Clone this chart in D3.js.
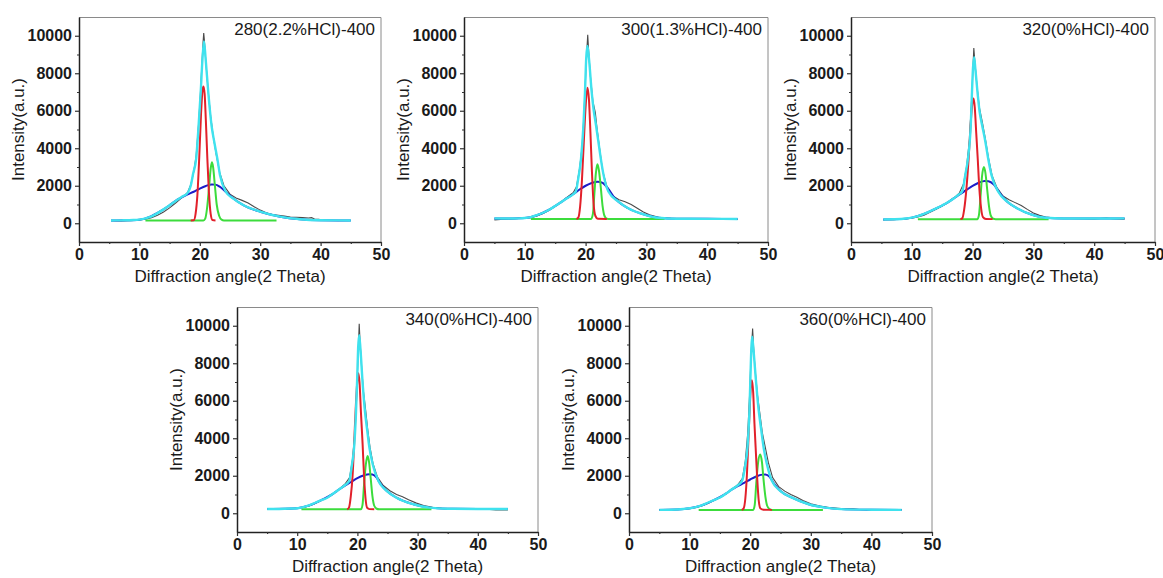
<!DOCTYPE html>
<html>
<head>
<meta charset="utf-8">
<script src="https://cdn.jsdelivr.net/npm/d3@7"></script>
<style>
  html, body { margin: 0; padding: 0; background: #fff; }
  text { font-family: "Liberation Sans", Arial, sans-serif; }
</style>
</head>
<body>
<div id="chart"></div>
<script>
// panel titles and axis ticks
const titles = ["280(2.2%HCl)-400", "300(1.3%HCl)-400", "320(0%HCl)-400", "340(0%HCl)-400", "360(0%HCl)-400"];
const xTicks = [0, 10, 20, 30, 40, 50];
const xMinor = [5, 15, 25, 35, 45];
const yTicks = [0, 2000, 4000, 6000, 8000, 10000];
const yMinor = [1000, 3000, 5000, 7000, 9000];

// 280(2.2%HCl)-400
const black280 = [[5.3,130],[6,140],[7,120],[8,140],[9,150],[10,170],[11,210],[12,290],[13,430],[14,600],[15,820],[16,1080],[17,1350],[18,1650],[18.5,2050],[19,2750],[19.4,3600],[19.8,5300],[20.1,6900],[20.4,8800],[20.55,9700],[20.65,10150],[20.75,9800],[21,8600],[21.4,7000],[21.8,5700],[22.2,4700],[22.7,3700],[23.3,2700],[24,2000],[25,1550],[26,1350],[27,1220],[28,1080],[29,880],[30,700],[31,560],[32,460],[33,420],[34,380],[35,330],[36,320],[37,300],[38,280],[38.5,300],[39,230],[39.8,210]];
const cyan280 = [[5.3,150],[7,155],[9,170],[10,195],[11,260],[12,370],[13,540],[14,740],[15,960],[16,1190],[17,1400],[18,1620],[18.5,2000],[18.9,2650],[19.4,3450],[19.8,5200],[20.15,7000],[20.45,8800],[20.7,9700],[20.97,8750],[21.4,7000],[21.95,5200],[22.4,4330],[22.9,3450],[23.35,2560],[24.3,1680],[25.5,1330],[27.2,970],[30,620],[33.3,350],[36.6,210],[40,160],[45,150]];
const red280 = [[18.5,150],[19,160],[19.3,500],[19.6,1500],[19.9,3450],[20.2,5800],[20.45,7100],[20.6,7300],[20.8,6900],[21,5500],[21.25,3450],[21.5,1700],[21.8,500],[22.1,170],[22.6,150]];
const green280 = [[11,150],[20.6,150],[20.9,250],[21.2,800],[21.5,1800],[21.8,2900],[22,3250],[22.2,3000],[22.5,2000],[22.8,1000],[23.2,400],[23.6,190],[24,150],[32.7,150]];
const blue280 = [[5.3,150],[8,160],[10,190],[12,380],[13,560],[14,740],[15,960],[16,1200],[17,1380],[18,1540],[19,1680],[20,1850],[21,1990],[22,2070],[22.6,2060],[23.3,1950],[24.3,1680],[25.5,1330],[27.2,970],[30,615],[33.3,350],[36.6,210],[40,160],[45,150]];

// 300(1.3%HCl)-400
const black300 = [[5,180],[6,200],[7,220],[8,230],[9,250],[10,270],[11,300],[12,390],[13,520],[14,690],[15,900],[16,1150],[17,1400],[18,1650],[18.5,1950],[19,2900],[19.4,4000],[19.7,5600],[20,7800],[20.2,9200],[20.35,10050],[20.5,9200],[20.8,7800],[21.2,6500],[21.6,5900],[21.9,5000],[22.3,4000],[22.8,2800],[23.5,1950],[24.5,1450],[25.5,1250],[26.5,1150],[27.5,1000],[28.5,800],[29.5,600],[30.5,450],[32,320],[34,260],[36,240],[38,230],[40,220],[42,200],[43,240],[44,210],[45,200]];
const cyan300 = [[5,260],[7,250],[9,260],[10,280],[11,330],[12,430],[13,560],[14,720],[15,920],[16,1130],[17,1350],[18,1560],[18.4,1700],[18.8,2400],[19.25,3450],[19.65,5250],[19.9,7000],[20.1,8800],[20.3,9450],[20.55,8800],[21,7000],[21.3,6100],[21.7,5250],[22.1,4350],[22.5,3450],[22.95,2580],[23.75,1690],[25.4,1150],[27,800],[29.8,450],[32,290],[35,240],[40,235],[45,230]];
const red300 = [[18.5,230],[18.8,300],[19.1,900],[19.4,2300],[19.7,4300],[20,6200],[20.3,7230],[20.55,6600],[20.8,4800],[21.05,2700],[21.3,1100],[21.6,400],[22,240],[23.5,230]];
const green300 = [[11,230],[20.9,230],[21.2,500],[21.45,1600],[21.7,2700],[21.95,3150],[22.2,2800],[22.5,1900],[22.8,900],[23.1,400],[23.5,240],[24,230],[33,230]];
const blue300 = [[5,260],[8,255],[10,280],[12,430],[14,720],[16,1130],[17,1350],[18,1560],[19,1800],[20,2000],[21,2150],[22,2220],[22.8,2150],[23.7,1850],[24.6,1420],[25.4,1150],[27,800],[29.8,450],[32,290],[35,240],[40,235],[45,230]];

// 320(0%HCl)-400
const black320 = [[5.3,180],[6,200],[7,190],[8,210],[9,230],[10,270],[11,330],[12,430],[13,580],[14,740],[15,920],[16,1130],[17,1370],[17.8,1600],[18.5,2100],[19,3000],[19.5,4500],[19.9,7000],[20.1,8600],[20.2,9350],[20.35,8700],[20.7,7400],[21.1,6200],[21.6,5400],[22.1,4500],[22.6,3500],[23.2,2550],[24,1900],[25,1450],[26,1250],[27,1100],[28,950],[29,740],[30,550],[31,420],[32,330],[34,270],[36,250],[38,240],[40,230],[41,250],[42,280],[43,240],[44,230],[45,220]];
const cyan320 = [[5.3,200],[7,210],[9,250],[10,300],[11,380],[12,500],[13,640],[14,790],[15,950],[16,1130],[17,1350],[17.8,1550],[18.3,1700],[18.8,2580],[19.25,3470],[19.7,5250],[19.9,7000],[20.06,8250],[20.25,8850],[20.45,8250],[20.8,7000],[21.15,5950],[21.55,5250],[22.1,4350],[22.55,3470],[23.1,2580],[24.2,1690],[25.7,1150],[27.3,800],[29.8,450],[32,290],[35,250],[40,250],[45,260]];
const red320 = [[18,220],[18.3,260],[18.6,700],[19,1900],[19.35,3470],[19.7,5400],[20,6500],[20.15,6650],[20.35,6200],[20.6,4800],[20.85,3400],[21.1,1900],[21.4,800],[21.7,330],[22.2,230],[23.3,220]];
const green320 = [[11,220],[20.8,220],[21.05,450],[21.3,1400],[21.55,2500],[21.85,3000],[22.1,2700],[22.4,1800],[22.7,900],[23,400],[23.4,240],[23.8,220],[32.5,220]];
const blue320 = [[5.3,200],[8,220],[10,300],[12,500],[14,790],[16,1130],[17,1350],[18,1560],[19,1780],[20,1990],[21,2160],[22,2250],[22.6,2240],[23.5,2060],[24.5,1590],[25.7,1150],[27.3,800],[29.8,450],[32,290],[35,250],[40,250],[45,260]];

// 340(0%HCl)-400
const black340 = [[5,220],[7,230],[9,240],[10,260],[11,310],[12,390],[13,520],[14,680],[15,840],[16,1050],[17,1300],[18,1580],[18.7,1900],[19.2,2900],[19.6,4400],[19.9,6600],[20.15,8700],[20.3,10100],[20.45,9100],[20.7,7800],[21,6500],[21.3,5700],[21.7,4500],[22.1,3500],[22.6,2650],[23.3,1950],[24.3,1480],[25.4,1200],[26.5,1000],[27.5,880],[28.5,720],[29.8,540],[31,410],[32.5,320],[34,270],[36,240],[38,230],[40,230],[42,200],[43,170],[44,190],[45,180]];
const cyan340 = [[5,230],[7,230],[9,250],[10,270],[11,330],[12,420],[13,560],[14,700],[15,830],[16,1050],[17,1280],[18,1520],[18.65,1720],[19.1,2600],[19.45,3500],[19.75,5260],[19.95,7030],[20.12,8800],[20.3,9500],[20.5,8800],[20.85,7030],[21.2,5610],[21.65,4370],[22,3490],[22.55,2600],[23.5,1715],[24.9,1185],[26.5,830],[29.3,480],[32,300],[35,240],[40,230],[45,230]];
const red340 = [[18.3,210],[18.6,300],[18.9,900],[19.2,2000],[19.45,3660],[19.75,5800],[20,7100],[20.15,7470],[20.35,7000],[20.6,5300],[20.87,3660],[21.1,2000],[21.35,800],[21.6,300],[22,220],[22.8,210]];
const green340 = [[10.7,210],[20.6,210],[20.85,450],[21.1,1500],[21.4,2600],[21.7,3050],[21.95,2700],[22.2,1900],[22.5,900],[22.8,400],[23.2,240],[23.6,210],[32.3,210]];
const blue340 = [[5,230],[8,240],[10,270],[12,420],[14,700],[16,1050],[17,1280],[18,1480],[19,1680],[20,1870],[21,2010],[22,2080],[22.5,2070],[23.2,1900],[23.8,1580],[24.9,1185],[26.5,830],[29.3,480],[32,300],[35,240],[40,230],[45,230]];

// 360(0%HCl)-400
const black360 = [[5,170],[7,180],[9,210],[10,240],[11,300],[12,390],[13,520],[14,680],[15,830],[16,1040],[17,1290],[18,1540],[18.7,1850],[19.2,2800],[19.6,4300],[19.9,6300],[20.15,8500],[20.4,9850],[20.55,8900],[20.8,7700],[21.2,6300],[21.6,5300],[22,4300],[22.5,3500],[23,2700],[23.7,1900],[24.7,1420],[25.7,1180],[26.7,1000],[27.7,850],[28.7,680],[30,510],[31.5,380],[33,300],[35,250],[37,240],[38,200],[40,190],[45,180]];
const cyan360 = [[5,180],[7,190],[9,230],[10,265],[11,330],[12,420],[13,560],[14,700],[15,840],[16,1050],[17,1280],[18,1500],[18.65,1715],[19.2,2600],[19.55,3490],[19.85,5260],[20.02,7030],[20.19,8800],[20.32,9420],[20.52,8800],[20.96,7030],[21.3,5790],[21.85,4370],[22.22,3490],[22.77,2600],[23.6,1715],[25,1185],[26.9,830],[29.65,480],[32.4,300],[35,220],[40,190],[45,180]];
const red360 = [[18.6,180],[18.9,250],[19.2,800],[19.45,2000],[19.65,3490],[19.95,5800],[20.15,6900],[20.3,7100],[20.5,6400],[20.7,4800],[20.9,3490],[21.15,1900],[21.4,700],[21.7,250],[22.2,190],[23.6,180]];
const green360 = [[11.5,180],[20.5,180],[20.75,450],[21,1600],[21.3,2700],[21.65,3130],[21.95,2700],[22.2,1800],[22.5,900],[22.8,400],[23.2,220],[23.6,180],[32,180]];
const blue360 = [[5,180],[8,200],[10,265],[12,420],[14,700],[16,1050],[17,1270],[18,1460],[19,1620],[20,1800],[21,1960],[22,2060],[22.5,2070],[23.2,1950],[24,1550],[25,1185],[26.9,830],[29.65,480],[32.4,300],[35,220],[40,190],[45,180]];

const blackData = [black280, black300, black320, black340, black360];
const cyanData = [cyan280, cyan300, cyan320, cyan340, cyan360];
const redData = [red280, red300, red320, red340, red360];
const greenData = [green280, green300, green320, green340, green360];
const blueData = [blue280, blue300, blue320, blue340, blue360];

// layout of the five panels
const panelLeft = [79, 464, 851, 237, 629];
const panelTop = [17, 17, 17, 307, 307];
const panelWidth = [302, 304, 304, 301, 303];
const panelHeight = 225;

const svg = d3.select("#chart")
  .append("svg")
  .attr("width", 1163)
  .attr("height", 578);

function drawPanel(i) {
  const w = panelWidth[i], h = panelHeight;
  const g = svg.append("g")
    .attr("transform", `translate(${panelLeft[i]}, ${panelTop[i]})`);

  const x = d3.scaleLinear().domain([0, 50]).range([0, w]);
  const y = d3.scaleLinear().domain([-1000, 11000]).range([h, 0]);

  // thin frame on top and right
  g.append("path")
    .attr("d", `M0,0.5H${w}V${h}`)
    .attr("fill", "none")
    .attr("stroke", "#8a8a8a")
    .attr("stroke-width", 1);

  // x axis
  g.append("g")
    .attr("transform", `translate(0, ${h})`)
    .call(d3.axisBottom(x).tickValues(xTicks).tickSize(4).tickSizeOuter(0).tickPadding(3).tickFormat(d3.format("d")));
  g.append("g")
    .attr("transform", `translate(0, ${h})`)
    .call(d3.axisBottom(x).tickValues(xMinor).tickSize(2).tickFormat(""))
    .select(".domain").remove();

  // y axis
  g.append("g")
    .call(d3.axisLeft(y).tickValues(yTicks).tickSize(4).tickSizeOuter(0).tickPadding(3).tickFormat(d3.format("d")));
  g.append("g")
    .call(d3.axisLeft(y).tickValues(yMinor).tickSize(2).tickFormat(""))
    .select(".domain").remove();

  g.selectAll(".domain").attr("stroke", "#222").attr("stroke-width", 1.5);
  g.selectAll(".tick line").attr("stroke", "#333").attr("stroke-width", 1.2);
  g.selectAll(".tick text")
    .style("font-family", "'Liberation Sans', Arial, sans-serif")
    .style("font-size", "16px")
    .style("font-weight", "bold")
    .attr("fill", "#1a1a1a");

  // raw pattern (thin dark line), then the fitted peaks, the sum on top
  const rough = d3.line()
    .x(d => x(d[0]))
    .y(d => y(d[1]));

  g.append("path")
    .datum(blackData[i])
    .attr("fill", "none")
    .attr("stroke", "#4a4a4a")
    .attr("stroke-width", 1.1)
    .attr("d", rough);

  const smooth = d3.line()
    .x(d => x(d[0]))
    .y(d => y(d[1]))
    .curve(d3.curveMonotoneX);

  g.append("path")
    .datum(blueData[i])
    .attr("fill", "none")
    .attr("stroke", "#1c1cc8")
    .attr("stroke-width", 2)
    .attr("d", smooth);

  g.append("path")
    .datum(greenData[i])
    .attr("fill", "none")
    .attr("stroke", "#3cdc3c")
    .attr("stroke-width", 2)
    .attr("d", smooth);

  g.append("path")
    .datum(redData[i])
    .attr("fill", "none")
    .attr("stroke", "#e2202a")
    .attr("stroke-width", 2)
    .attr("d", smooth);

  g.append("path")
    .datum(cyanData[i])
    .attr("fill", "none")
    .attr("stroke", "#3fe2ee")
    .attr("stroke-width", 2.4)
    .attr("d", smooth);

  // titles
  g.append("text")
    .attr("x", w - 6)
    .attr("y", 18)
    .attr("text-anchor", "end")
    .style("font-size", "17px")
    .attr("fill", "#1a1a1a")
    .text(titles[i]);

  g.append("text")
    .attr("x", w / 2)
    .attr("y", h + 40)
    .attr("text-anchor", "middle")
    .style("font-size", "17px")
    .attr("fill", "#1a1a1a")
    .text("Diffraction angle(2 Theta)");

  g.append("text")
    .attr("transform", `translate(-55, ${h / 2}) rotate(-90)`)
    .attr("text-anchor", "middle")
    .style("font-size", "17px")
    .attr("fill", "#1a1a1a")
    .text("Intensity(a.u.)");
}

for (let i = 0; i < titles.length; i++) drawPanel(i);
</script>
</body>
</html>
